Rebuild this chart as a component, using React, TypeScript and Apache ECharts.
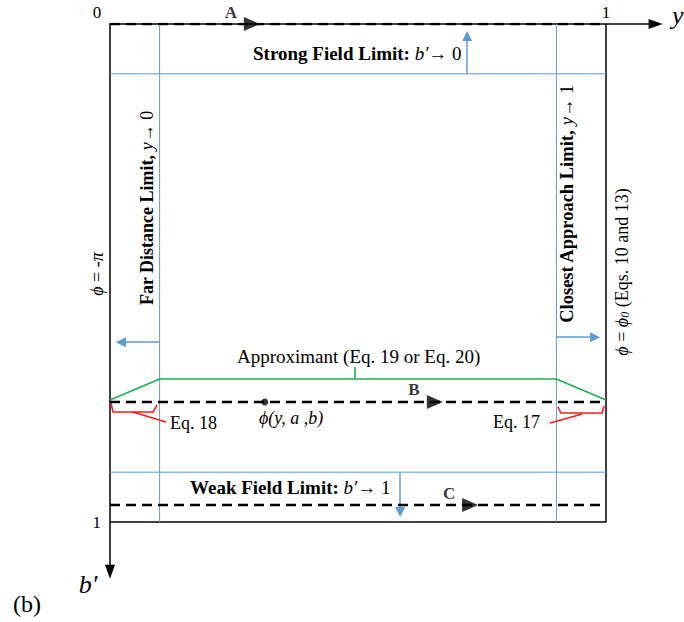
import React, { useEffect, useRef } from 'react';
import * as echarts from 'echarts';

const FONT = '"Liberation Serif", "Times New Roman", serif';

// Axis extent: y runs along the top, b′ runs downward; both end in an arrow past 1.
const axisMax = 1.1;

// Integration paths A, B, C at constant b′, running from y = 0 to y = 1.
const pathNames = ['A', 'B', 'C'];
const pathBPrime = [0, 0.759, 0.966];
const pathArrowY = [0.286, 0.655, 0.726];

// Boundaries of the limiting regions.
const limitY = [0.1, 0.9];
const limitBPrime = [0.1, 0.9];

// Arrows pointing into each limit: [y, b′] at the start and at the head.
const limitArrowFrom = [[0.72, 0.1], [0.585, 0.9], [0.1, 0.639], [0.9, 0.629]];
const limitArrowTo = [[0.72, 0.024], [0.585, 0.98], [0.022, 0.639], [0.978, 0.629]];

// Approximant curve and its label tick.
const approxY = [0, 0.1, 0.9, 1];
const approxBPrime = [0.755, 0.713, 0.713, 0.755];
const approxTickY = [0.494, 0.494];
const approxTickBPrime = [0.689, 0.713];

// Brackets for Eq. 18 (near y = 0) and Eq. 17 (near y = 1), with leader lines.
const eq18Y = [0.002, 0.006, 0.087, 0.095];
const eq18BPrime = [0.761, 0.779, 0.779, 0.765];
const eq18LeaderY = [0.046, 0.113];
const eq18LeaderBPrime = [0.779, 0.799];
const eq17Y = [0.903, 0.909, 0.992, 0.996];
const eq17BPrime = [0.769, 0.781, 0.781, 0.767];
const eq17LeaderY = [0.952, 0.887];
const eq17LeaderBPrime = [0.783, 0.801];

// Sample point ϕ(y, a, b) on path B.
const pointY = [0.312];
const pointBPrime = [0.759];

const BLUE = '#5b9bd5';
const GREEN = '#1fae50';
const RED = '#ff1a1a';

const zip = (xs: number[], bs: number[]) => xs.map((x, i) => [x, bs[i]]);

const lineSeries = (pts: number[][], color: string, width: number, z = 3, type: any = 'solid') => ({
  type: 'line',
  data: pts,
  symbol: 'none',
  silent: true,
  animation: false,
  z,
  lineStyle: { color, width, type, cap: 'butt' },
});

const makeRich = (size: number) => {
  const base = { fontFamily: FONT, fontSize: size, color: '#000' };
  return {
    b: { ...base, fontWeight: 'bold' },
    i: { ...base, fontStyle: 'italic' },
    n: { ...base },
    s: { ...base, fontSize: Math.round(size * 0.67), fontStyle: 'italic', verticalAlign: 'bottom' },
  };
};

const textEl = (text: string, x: number, y: number, opts: any = {}) => {
  const size = opts.fontSize || 18;
  return {
    type: 'text',
    x,
    y,
    rotation: opts.rotation || 0,
    silent: true,
    z: 10,
    style: {
      text,
      rich: makeRich(size),
      fill: '#000',
      fontFamily: FONT,
      fontSize: size,
      fontStyle: opts.fontStyle || 'normal',
      fontWeight: opts.fontWeight || 'normal',
      align: opts.align || 'left',
      verticalAlign: 'middle',
    },
  };
};

const axisLineStyle = { color: '#000', width: 1.5 };

const axisCommon = {
  type: 'value',
  min: 0,
  max: axisMax,
  interval: 1,
  splitLine: { show: false },
  axisTick: { show: false },
};

const option: any = {
  animation: false,
  backgroundColor: '#fff',
  grid: { left: 110, top: 24, width: 496 * axisMax, height: 498 * axisMax },
  xAxis: {
    ...axisCommon,
    position: 'top',
    axisLine: {
      show: true,
      onZero: false,
      symbol: ['none', 'triangle'],
      symbolSize: [10, 14],
      lineStyle: axisLineStyle,
    },
    axisLabel: {
      color: '#000',
      fontFamily: FONT,
      fontSize: 17,
      margin: 3,
      formatter: (v: number) => (v === 0 ? '{z|0}' : v === 1 ? '1' : ''),
      rich: { z: { fontFamily: FONT, fontSize: 17, color: '#000', padding: [0, 26, 0, 0] } },
    },
  },
  yAxis: {
    ...axisCommon,
    inverse: true,
    position: 'left',
    axisLine: {
      show: true,
      onZero: false,
      symbol: ['triangle', 'none'],
      symbolSize: [10, 14],
      lineStyle: axisLineStyle,
    },
    axisLabel: {
      color: '#000',
      fontFamily: FONT,
      fontSize: 17,
      margin: 9,
      formatter: (v: number) => (v === 1 ? '1' : ''),
    },
  },
  series: [
    // right and bottom edges of the unit square
    lineSeries([[0, 1], [1, 1], [1, 0]], '#000', 1.5, 2),
    // limit region boundaries
    ...limitY.map((y) => lineSeries([[y, 0], [y, 1]], BLUE, 1, 2)),
    ...limitBPrime.map((b) => lineSeries([[0, b], [1, b]], BLUE, 1, 2)),
    // approximant
    lineSeries(zip(approxY, approxBPrime), GREEN, 1.6, 3),
    lineSeries(zip(approxTickY, approxTickBPrime), GREEN, 1.6, 3),
    // Eq. 18 / Eq. 17 brackets
    lineSeries(zip(eq18Y, eq18BPrime), RED, 1.6, 3),
    lineSeries(zip(eq18LeaderY, eq18LeaderBPrime), RED, 1.6, 3),
    lineSeries(zip(eq17Y, eq17BPrime), RED, 1.6, 3),
    lineSeries(zip(eq17LeaderY, eq17LeaderBPrime), RED, 1.6, 3),
    // paths A, B, C
    ...pathBPrime.map((b) => lineSeries([[0, b], [1, b]], '#000', 2.5, 5, [10, 6])),
    {
      type: 'scatter',
      silent: true,
      z: 6,
      data: zip(pathArrowY, pathBPrime),
      symbol: 'path://M0,0L16,7L0,14Z',
      symbolSize: [16, 14],
      itemStyle: { color: '#000' },
      label: {
        show: true,
        position: 'inside',
        offset: [-21, -12],
        formatter: (p: any) => pathNames[p.dataIndex],
        fontFamily: FONT,
        fontWeight: 'bold',
        fontSize: 17,
        color: '#000',
      },
    },
    // sample point
    {
      type: 'scatter',
      silent: true,
      z: 7,
      data: zip(pointY, pointBPrime),
      symbol: 'circle',
      symbolSize: 7,
      itemStyle: { color: '#000' },
    },
    // arrows toward each limit
    {
      type: 'lines',
      coordinateSystem: 'cartesian2d',
      silent: true,
      z: 4,
      symbol: ['none', 'triangle'],
      symbolSize: 10,
      lineStyle: { color: BLUE, width: 1.5, opacity: 1 },
      data: limitArrowFrom.map((f, i) => ({ coords: [f, limitArrowTo[i]] })),
    },
  ],
  graphic: [
    textEl('y', 672, 15, { fontSize: 26, fontStyle: 'italic' }),
    textEl('b′', 88, 584, { fontSize: 26, fontStyle: 'italic', align: 'center' }),
    textEl('(b)', 27, 604, { fontSize: 24, align: 'center' }),
    textEl('{b|Strong Field Limit:} {i|b′}{n|→ 0}', 253, 53, { fontSize: 19 }),
    textEl('{b|Weak Field Limit:} {i|b′}{n|→ 1}', 190, 487, { fontSize: 19 }),
    textEl('{b|Far Distance Limit,} {i|y}{n|→ 0}', 147, 208, { rotation: Math.PI / 2, align: 'center' }),
    textEl('{b|Closest Approach Limit,} {i|y}{n|→ 1}', 567, 204, { rotation: Math.PI / 2, align: 'center', fontSize: 18.5 }),
    textEl('{i|ϕ} {n|=} {i|-π}', 97, 274, { rotation: Math.PI / 2, align: 'center' }),
    textEl('{i|ϕ} {n|=} {i|ϕ}{s|0}{n| (Eqs. 10 and 13)}', 622, 272, { rotation: Math.PI / 2, align: 'center' }),
    textEl('Approximant (Eq. 19 or Eq. 20)', 237, 356, { fontSize: 19 }),
    textEl('ϕ(y, a ,b)', 259, 418, { fontStyle: 'italic', fontSize: 18 }),
    textEl('Eq. 18', 170, 423),
    textEl('Eq. 17', 493, 422),
  ],
};

export default function App() {
  const ref = useRef<HTMLDivElement>(null);
  useEffect(() => {
    const chart = echarts.init(ref.current!, null, { renderer: 'svg' });
    chart.setOption(option);
    return () => chart.dispose();
  }, []);
  return (
    <div
      ref={ref}
      style={{ position: 'fixed', left: 0, top: 0, width: 684, height: 622, background: '#fff' }}
    />
  );
}
